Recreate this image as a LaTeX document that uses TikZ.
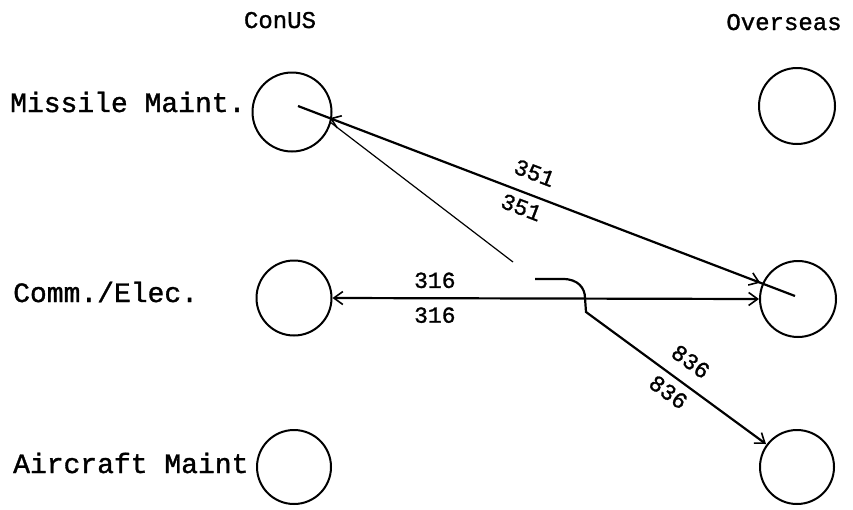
\documentclass[tikz,border=0pt]{standalone}
\usepackage{fontspec}
\usetikzlibrary{arrows.meta,decorations.markings}
\newfontfamily\tw{Liberation Mono}[FakeBold=1.2]
\begin{document}
\begin{tikzpicture}[x=1pt,y=-1pt,
  circ/.style={circle,draw,line width=2pt,inner sep=0pt},
  rowlabel/.style={anchor=base west,inner sep=0pt,font=\tw\fontsize{28}{30}\selectfont},
  head/.style={anchor=base,inner sep=0pt,font=\tw\fontsize{24}{26}\selectfont},
  num/.style={inner sep=0pt,font=\tw\fontsize{23}{25}\selectfont},
  barb/.tip={Straight Barb[length=9pt,width=13pt,line width=1.6pt]},
  link/.style={line width=2.2pt}]
\useasboundingbox (0,0) rectangle (853,509);
\fill[white] (0,0) rectangle (853,509);

% headings
\node[head] (hc) at (280,28) {ConUS};
\node[head] (ho) at (784,30) {Overseas};

% row labels
\node[rowlabel] (lm) at (10,112) {Missile Maint.};
\node[rowlabel] (lc) at (13,302) {Comm./Elec.};
\node[rowlabel] (la) at (13,473) {Aircraft Maint};

% circles
\node[circ,minimum size=79pt] (cm) at (292,112) {};
\node[circ,minimum size=75pt] (cc) at (294,298) {};
\node[circ,minimum size=74pt] (ca) at (294,467) {};
\node[circ,minimum size=76pt] (om) at (797,106) {};
\node[circ,minimum size=76pt] (oc) at (798,299) {};
\node[circ,minimum size=74pt] (oa) at (797,467) {};

% connector points
\coordinate (m1) at (298,106);
\coordinate (o2) at (795,296);
\coordinate (mb) at (330,122);
\coordinate (t1) at (513,262);
\coordinate (h0) at (535,279);
\coordinate (h1) at (563,279);
\coordinate (h2) at (585,298);
\coordinate (h3) at (586,312);
\coordinate (h4) at (766,444);

% 351 line (Missile ConUS <-> Comm Overseas)
\draw[link,postaction={decorate},decoration={markings,
    mark=at position 0.064 with {\arrowreversed{barb}},
    mark=at position 0.93 with {\arrow{barb}}}]
  (m1) -- node[num,sloped,pos=0.46,above=13pt] {351}
          node[num,sloped,pos=0.46,below=6pt] {351} (o2);

% thin line
\draw[line width=1.2pt] (mb) -- (t1);

% 316 line
\draw[link,{barb}-{barb}] (cc.east) --
   node[num,pos=0.24,above=9pt] {316}
   node[num,pos=0.24,below=8pt] {316} (oc.west);

% 836 line with hop
\draw[link,-{barb}] (h0) -- (h1) .. controls (578,279) and (585,288) .. (h2) -- (h3)
   -- node[num,sloped,pos=0.51,above=13pt] {836}
      node[num,sloped,pos=0.51,below=7pt] {836} (h4);
\end{tikzpicture}
\end{document}
